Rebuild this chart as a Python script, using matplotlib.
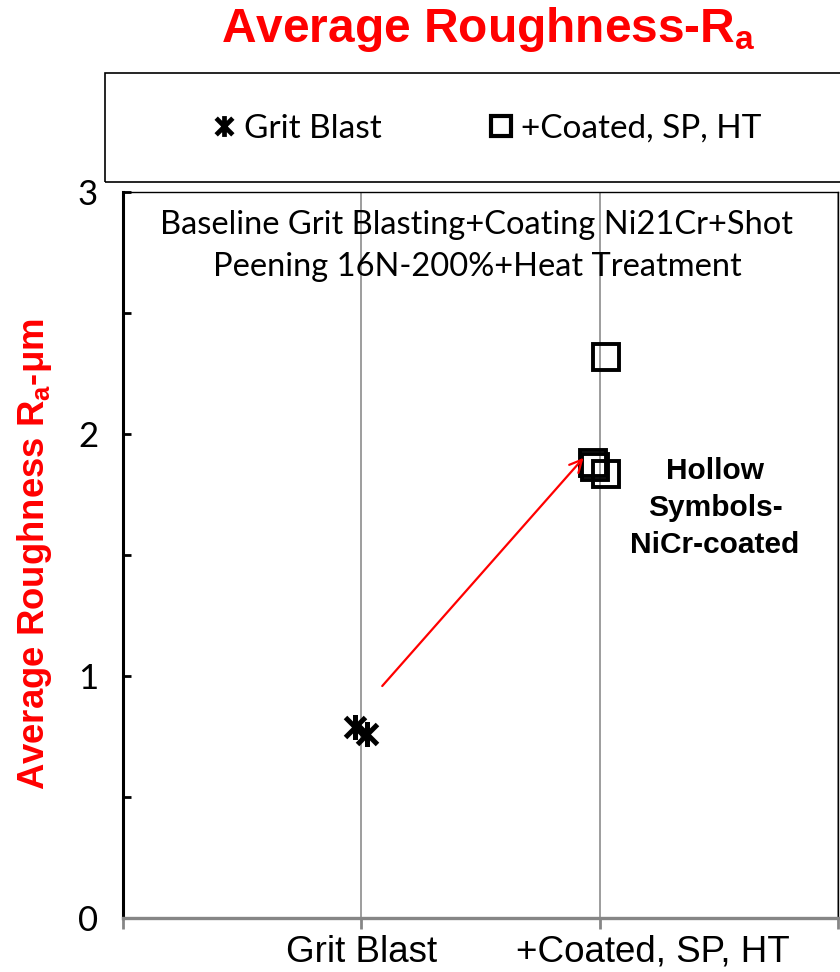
import matplotlib
matplotlib.use("Agg")
import matplotlib.pyplot as plt
from matplotlib.path import Path
from matplotlib.lines import Line2D
from matplotlib.patches import Rectangle
from matplotlib.transforms import ScaledTranslation

plt.rcParams['mathtext.fontset'] = 'custom'
plt.rcParams['mathtext.rm'] = 'Liberation Sans'
plt.rcParams['mathtext.it'] = 'Liberation Sans:italic'
plt.rcParams['mathtext.bf'] = 'Liberation Sans:bold'

# data
categories = ["Grit Blast", "+Coated, SP, HT"]
cat_pos = [1, 2]
grit_x = [0.975, 1.025]
grit_ra = [0.79, 0.76]
coated_x = [2.025, 1.97, 1.98, 2.025]
coated_ra = [2.32, 1.88, 1.865, 1.835]
arrow_from = (1.08, 0.95)
arrow_to = (1.94, 1.91)

# asterisk marker: vertical bar + X
star = Path([(0, -1), (0, 1), (-0.8, -0.8), (0.8, 0.8), (-0.8, 0.8), (0.8, -0.8)],
            [Path.MOVETO, Path.LINETO, Path.MOVETO, Path.LINETO, Path.MOVETO, Path.LINETO])

fig = plt.figure(figsize=(8.4, 9.72), dpi=100)
ax = fig.add_axes([123/840, 54/972, 715/840, 726/972])
ax.set_xlim(0, 3)
ax.set_ylim(0, 3)

ax.plot(grit_x, grit_ra, ls='none', marker=star, ms=18, mew=3.6,
        mec='black', mfc='none', zorder=3)
ax.plot(coated_x, coated_ra, ls='none', marker='s', ms=19, mew=2.8,
        mec='black', mfc='none', zorder=3)

ax.annotate('', xy=arrow_to, xytext=arrow_from,
            arrowprops=dict(arrowstyle='->', color='red', lw=1.6, mutation_scale=22))

# axes styling
ax.spines['left'].set_color('black')
ax.spines['left'].set_linewidth(2.2)
ax.spines['bottom'].set_color('#868686')
ax.spines['bottom'].set_linewidth(2.4)
for s in ['top', 'right']:
    ax.spines[s].set_color('black')
    ax.spines[s].set_linewidth(1.0)

ax.set_yticks([0, 1, 2, 3])
ax.set_yticks([0.5, 1.5, 2.5], minor=True)
ax.tick_params(axis='y', which='both', direction='in', length=6, width=2,
               color='black', pad=18, labelsize=25)
for lab in ax.get_yticklabels():
    lab.set_family('Lato')

ax.set_xticks([0, 1, 2, 3])
ax.set_xticklabels([''] + categories + [''], family='Liberation Sans', fontsize=26.5)
ax.tick_params(axis='x', direction='out', length=8, width=2, color='#868686', pad=4)
# second category label sits right of its tick in the original
lab2 = ax.get_xticklabels()[2]
lab2.set_transform(lab2.get_transform() + ScaledTranslation(0.53, 0, fig.dpi_scale_trans))
ax.grid(axis='x', color='#8c8c8c', lw=1.2, zorder=0)
ax.set_axisbelow(True)

ax.text(0.495, 0.9256,
        "Baseline Grit Blasting+Coating Ni21Cr+Shot\nPeening 16N-200%+Heat Treatment",
        transform=ax.transAxes, ha='center', va='center', fontsize=23.5,
        family='Lato', linespacing=1.5)
ax.text(0.828, 0.565, "Hollow\nSymbols-\nNiCr-coated", transform=ax.transAxes,
        ha='center', va='center', fontsize=21.5, fontweight='bold',
        family='Liberation Sans', linespacing=1.4)

fig.text(488/840, 1 - 30/972, r"Average Roughness-$\mathbf{R_a}$", color='red',
         fontsize=34.5, fontweight='bold', family='Liberation Sans', ha='center', va='center')
fig.text(35/840, 1 - 554/972, r"Average Roughness $\mathbf{R_a}$-μm", color='red',
         fontsize=26.3, fontweight='bold', family='Liberation Sans', rotation=90,
         ha='center', va='center')

# legend box
fig.patches.append(Rectangle((105/840, 1 - 182/972), 0.9, 109/972, transform=fig.transFigure,
                             fill=False, ec='black', lw=1.2))
h1 = Line2D([], [], ls='none', marker=star, ms=15, mew=3.4, mec='black', mfc='none')
h2 = Line2D([], [], ls='none', marker='s', ms=14, mew=3, mec='black', mfc='none')
fig.legend([h1, h2], categories, loc='center', bbox_to_anchor=(486/840, 1 - 129/972),
           ncol=2, frameon=False, handlelength=0.8, handletextpad=0.2,
           columnspacing=3.2, prop={'family': 'Lato', 'size': 24})

fig.savefig('out.png', dpi=100)
